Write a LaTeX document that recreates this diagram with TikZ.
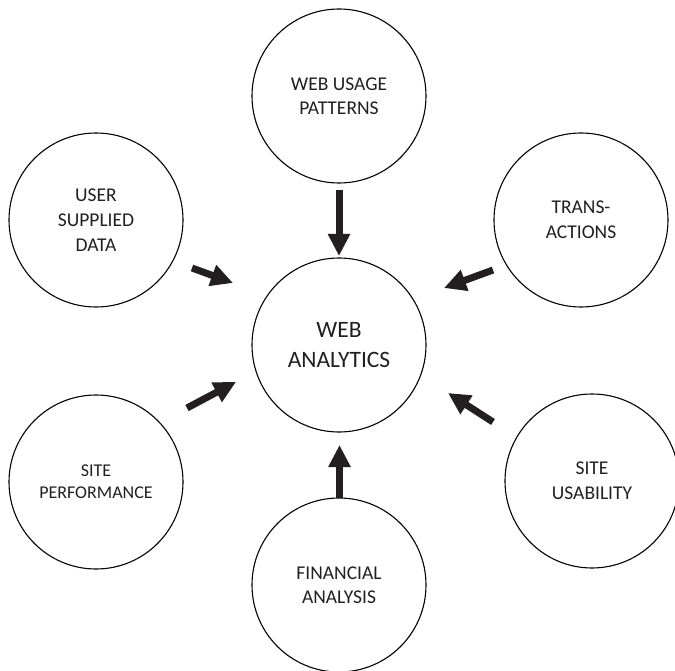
\documentclass[tikz,border=0pt]{standalone}
\usepackage{fontspec}
\setmainfont{Carlito}
\usetikzlibrary{arrows.meta}
\definecolor{txt}{HTML}{231F20}
\begin{document}
\begin{tikzpicture}[x=1pt,y=-1pt,
  bubble/.style={circle,draw=black,line width=1.1pt,minimum size=174pt,inner sep=0pt,
    align=center,text=txt,font=\fontsize{19.5}{25}\selectfont},
  flow/.style={draw=txt,line width=7pt,-{Triangle[width=21pt,length=22pt]}}]
\useasboundingbox (0,0) rectangle (675,671);
\node[bubble,font=\fontsize{23.5}{30}\selectfont] (wa) at (339,345) {WEB\\ANALYTICS};
\node[bubble,font=\fontsize{19.5}{24}\selectfont] (wup) at (339,96) {WEB USAGE\\PATTERNS};
\node[bubble] (usd) at (96,220) {USER\\SUPPLIED\\DATA};
\node[bubble] (tra) at (581,220) {TRANS-\\ACTIONS};
\node[bubble,font=\fontsize{18}{22}\selectfont] (spf) at (96,482) {SITE\\PERFORMANCE};
\node[bubble] (sus) at (592,481) {SITE\\USABILITY};
\node[bubble,font=\fontsize{19.5}{24}\selectfont] (fin) at (339,585) {FINANCIAL\\ANALYSIS};
% arrow ends
\coordinate (a1s) at (339,190);   \coordinate (a1e) at (339,256);
\coordinate (a2s) at (192,268);   \coordinate (a2e) at (233,283);
\coordinate (a3s) at (493,270);   \coordinate (a3e) at (444,288);
\coordinate (a4s) at (187,408);   \coordinate (a4e) at (236,382);
\coordinate (a5s) at (493,422);   \coordinate (a5e) at (448,393);
\coordinate (a6s) at (339.5,498); \coordinate (a6e) at (339.5,445);
\draw[flow] (a1s) -- (a1e);
\draw[flow] (a2s) -- (a2e);
\draw[flow] (a3s) -- (a3e);
\draw[flow] (a4s) -- (a4e);
\draw[flow] (a5s) -- (a5e);
\draw[flow] (a6s) -- (a6e);
\end{tikzpicture}
\end{document}
